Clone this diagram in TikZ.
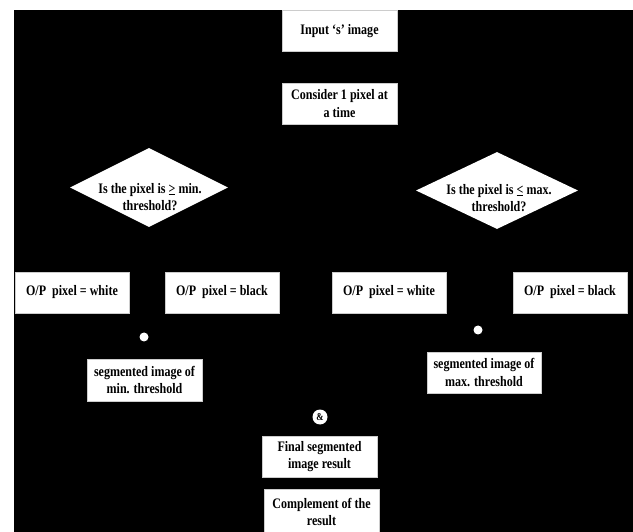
\documentclass[tikz,border=0pt]{standalone}
\usepackage{fontspec}
\setmainfont{Liberation Serif}[FakeStretch=0.83]
\usetikzlibrary{shapes.geometric}
\newcommand{\txtfont}{\bfseries\fontsize{14.5}{17.5}\selectfont}
\tikzset{
  boxnode/.style={fill=white, draw=gray!40, line width=0.4pt, minimum width=115, minimum height=41, inner sep=0pt, align=center, font=\txtfont},
  decnode/.style={shape=diamond, fill=white, draw=none, inner sep=0pt},
  dectext/.style={align=center, font=\txtfont, inner sep=0pt},
  dotnode/.style={circle, fill=white, draw=none, minimum size=9, inner sep=0pt},
  andnode/.style={circle, fill=white, draw=none, minimum size=15, inner sep=0pt, font=\bfseries\fontsize{10.5}{10.5}\selectfont}
}
\begin{document}
\begin{tikzpicture}[x=1pt,y=-1pt]
\useasboundingbox (0,0) rectangle (633,532);
\fill[white] (0,0) rectangle (633,532);
\fill[black] (14,10) rectangle (633,532);
\begin{scope}
\clip (14,10) rectangle (633,532);
\node[boxnode] (inp) at (339.5,31) {Input `s' image};
\node[boxnode] (cons) at (339.5,103.5) {Consider 1 pixel at\\a time};
\node[decnode, minimum width=158, minimum height=79] (d1) at (149,187.5) {};
\node[dectext] (d1t) at (150,197) {Is the pixel is \underline{>} min.\\threshold?};
\node[decnode, minimum width=162, minimum height=77] (d2) at (497,190.5) {};
\node[dectext] (d2t) at (499,198) {Is the pixel is \underline{<} max.\\threshold?};
\node[boxnode, minimum width=114] (w1) at (72,292.5) {O/P~ pixel = white};
\node[boxnode, minimum width=114] (b1) at (222,292.5) {O/P~ pixel = black};
\node[boxnode, minimum width=114] (w2) at (389,292.5) {O/P~ pixel = white};
\node[boxnode, minimum width=114] (b2) at (570,292.5) {O/P~ pixel = black};
\node[dotnode] (dot1) at (144,337) {};
\node[dotnode] (dot2) at (478,330) {};
\node[boxnode, minimum height=42] (smin) at (144.5,380) {segmented image of\\min. threshold};
\node[boxnode, minimum width=114] (smax) at (484,372.5) {segmented image of\\max. threshold};
\node[andnode] (amp) at (320,417) {\&};
\node[boxnode] (fin) at (319.5,456.5) {Final segmented\\image result};
\node[boxnode, minimum height=46] (comp) at (321.5,512) {Complement of the\\result};
\end{scope}
\end{tikzpicture}
\end{document}
